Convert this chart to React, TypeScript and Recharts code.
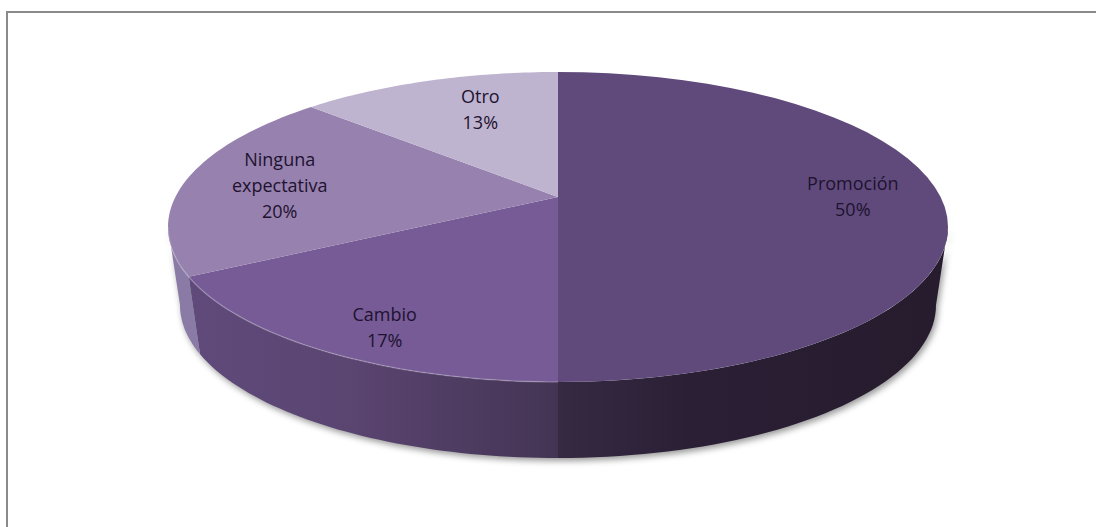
import { Pie, PieChart } from "recharts"

const categories = ["Promoción", "Cambio", "Ninguna expectativa", "Otro"]
const shares = [50, 17, 20, 13]
const topColors = ["#604a7b", "#765b96", "#9781ae", "#bfb4cf"]
const wallColors = ["url(#wallPromocion)", "url(#wallCambio)", "#8a7ba6", "#bfb4cf"]

const table = categories.map((name, i) => ({
  name,
  value: shares[i],
  top: topColors[i],
  wall: wallColors[i],
}))

const rad = Math.PI / 180
const RY_RATIO = 155 / 390
// perspective: the pie's centre sits above the middle of the ellipse
const WARP = 0.825
const APEX_DY = -30
const DEPTH = 78
const BOTTOM_RX_RATIO = 378 / 390
const BOTTOM_RY = 153
// how far along apex -> rim each label sits, x and y
const LABEL_PULL = [
  [0.77, 0.77],
  [0.744, 0.85],
  [0.75, 0.6],
  [0.6, 0.75],
]

// chart angle -> eccentric angle on the drawn ellipse (0 = top, clockwise)
const warp = (angle: number) => {
  const half = ((90 - angle) / 2) * rad
  return 2 * Math.atan2(WARP * Math.sin(half), Math.cos(half))
}

const rim = (cx: number, cy: number, r: number, t: number) => [
  cx + r * Math.sin(t),
  cy - r * RY_RATIO * Math.cos(t),
]

const arcPoints = (cx: number, cy: number, rx: number, ry: number, a: number, b: number) => {
  const pts: number[][] = []
  const steps = 48
  for (let i = 0; i <= steps; i++) {
    const t = a + ((b - a) * i) / steps
    pts.push([cx + rx * Math.sin(t), cy - ry * Math.cos(t)])
  }
  return pts
}

const toPath = (pts: number[][]) =>
  pts.map((p, i) => `${i ? "L" : "M"}${p[0].toFixed(1)},${p[1].toFixed(1)}`).join(" ")

function TopSlice(props: any) {
  const { cx, cy, outerRadius: r, startAngle, endAngle, payload } = props
  const a = warp(startAngle)
  const b = warp(endAngle)
  const edge = arcPoints(cx, cy, r, r * RY_RATIO, a, b)
  const d = `M${cx},${cy + APEX_DY} ${toPath(edge).replace("M", "L")} Z`
  const fa = Math.max(a, 180 * rad)
  const fb = Math.min(b, 270 * rad)
  return (
    <g>
      <path d={d} fill={payload.top} stroke="none" />
      {fb > fa && (
        <path
          d={toPath(arcPoints(cx, cy, r, r * RY_RATIO, fa, fb))}
          fill="none"
          stroke="#ffffff"
          strokeOpacity={0.22}
          strokeWidth={1.5}
        />
      )}
    </g>
  )
}

function WallSlice(props: any) {
  const { cx, cy, outerRadius: r, startAngle, endAngle, payload } = props
  const a = Math.max(warp(startAngle), 90 * rad)
  const b = Math.min(warp(endAngle), 270 * rad)
  if (b <= a) return <g />
  const upper = arcPoints(cx, cy, r, r * RY_RATIO, a, b)
  const lower = arcPoints(cx, cy + DEPTH, r * BOTTOM_RX_RATIO, BOTTOM_RY, b, a)
  return <path d={`${toPath(upper)} ${toPath(lower).replace("M", "L")} Z`} fill={payload.wall} />
}

function SliceLabel(props: any) {
  const { cx, cy, outerRadius: r, midAngle, index, name, value } = props
  const [rx, ry] = rim(cx, cy, r, warp(midAngle))
  const apexY = cy + APEX_DY
  const x = cx + (rx - cx) * LABEL_PULL[index][0]
  const y = apexY + (ry - apexY) * LABEL_PULL[index][1]
  const lines = [...String(name).split(" "), `${value}%`]
  const lh = 26
  return (
    <text
      x={x}
      y={y}
      textAnchor="middle"
      fontFamily="Open Sans"
      fontSize={18}
      fill="#1e1230"
    >
      {lines.map((l, i) => (
        <tspan key={i} x={x} y={y + (i - (lines.length - 1) / 2) * lh + 6}>
          {l}
        </tspan>
      ))}
    </text>
  )
}

export default function App() {
  return (
    <div style={{ position: "absolute", left: 0, top: 0, width: 1096, height: 527, background: "#fff", overflow: "hidden" }}>
      <style>{`.walls { filter: drop-shadow(2px 3px 3px rgba(0,0,0,0.4)); }`}</style>
      <div style={{ position: "absolute", left: 6, top: 11, right: 0, height: 2, background: "#8a8a8a" }} />
      <div style={{ position: "absolute", left: 6, top: 11, bottom: 0, width: 2, background: "#8a8a8a" }} />
      <div style={{ position: "absolute", left: 0, top: 0 }}>
        <PieChart width={1096} height={527} margin={{ top: 0, right: 0, bottom: 0, left: 0 }}>
          <defs>
            <linearGradient id="wallCambio" gradientUnits="userSpaceOnUse" x1={190} y1={0} x2={558} y2={0}>
              <stop offset="0%" stopColor="#604a7b" />
              <stop offset="45%" stopColor="#5a4470" />
              <stop offset="100%" stopColor="#433454" />
            </linearGradient>
            <linearGradient id="wallPromocion" gradientUnits="userSpaceOnUse" x1={558} y1={0} x2={940} y2={0}>
              <stop offset="0%" stopColor="#352a42" />
              <stop offset="35%" stopColor="#2a1f35" />
              <stop offset="100%" stopColor="#261c2d" />
            </linearGradient>
          </defs>
          <Pie
            className="walls"
            data={table}
            dataKey="value"
            nameKey="name"
            cx={558}
            cy={227}
            outerRadius={390}
            startAngle={90}
            endAngle={-270}
            stroke="none"
            isAnimationActive={false}
            shape={WallSlice}
          />
          <Pie
            data={table}
            dataKey="value"
            nameKey="name"
            cx={558}
            cy={227}
            outerRadius={390}
            startAngle={90}
            endAngle={-270}
            stroke="none"
            isAnimationActive={false}
            shape={TopSlice}
            labelLine={false}
            label={SliceLabel}
          />
        </PieChart>
      </div>
    </div>
  )
}
